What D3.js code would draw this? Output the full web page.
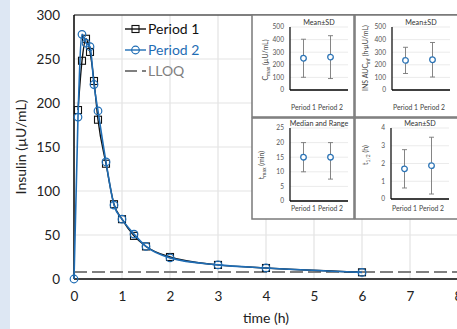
<!DOCTYPE html>
<html>
<head>
<meta charset="utf-8">
<script src="https://cdn.jsdelivr.net/npm/d3@7"></script>
<style>
  body { margin: 0; background: #fff; }
  text { font-family: Lato, "Open Sans", sans-serif; }
</style>
</head>
<body>
<div id="chart"></div>
<script>
// sampling times (min) and insulin concentrations (µU/mL)
const timesMin = [0, 5, 10, 15, 20, 25, 30, 40, 50, 60, 75, 90, 120, 180, 240, 360];
const period1 = [null, 192, 248, 273, 258, 225, 181, 131, 85, 68, 49, 37, 25, 16, 12.5, 7.6];
const period2 = [0, 184, 278, 268, 264, 221, 191, 133, 84, 68, 51, 37, 24, 16, 12.5, 7.5];
const lloq = 8;
const xTicks = [0, 1, 2, 3, 4, 5, 6, 7, 8];
const yTicks = [0, 50, 100, 150, 200, 250, 300];

// inset summaries: [centre, low, high]
const periods = ["Period 1", "Period 2"];
const cmaxStats = [[252, 101, 403], [261, 91, 431]];
const aucStats = [[235, 131, 339], [240, 103, 377]];
const tmaxStats = [[15, 10, 20], [15, 7.5, 20]];
const thalfStats = [[1.7, 0.62, 2.78], [1.88, 0.28, 3.48]];

const width = 457, height = 329;
const svg = d3.select("#chart").append("svg")
  .attr("width", width)
  .attr("height", height);

// light blue strip on the left edge
svg.append("rect").attr("x", 0).attr("y", 0).attr("width", 10).attr("height", height)
  .attr("fill", "#dde7f3");

const x = d3.scaleLinear().domain([0, 8]).range([74, 458]);
const y = d3.scaleLinear().domain([0, 300]).range([279, 15]);

// grid
svg.append("g").selectAll("line").data(xTicks.slice(1)).join("line")
  .attr("x1", d => x(d)).attr("x2", d => x(d)).attr("y1", y(0)).attr("y2", y(300))
  .attr("stroke", "#e3e3e3").attr("stroke-width", 1.2);
svg.append("g").selectAll("line").data(yTicks.slice(1)).join("line")
  .attr("x1", x(0)).attr("x2", x(8)).attr("y1", d => y(d)).attr("y2", d => y(d))
  .attr("stroke", d => d === 300 ? "#555" : "#e3e3e3").attr("stroke-width", d => d === 300 ? 1.3 : 1.2);

// axes (labels only, Excel style)
const xAxis = svg.append("g").attr("transform", `translate(0,${y(0)})`)
  .call(d3.axisBottom(x).tickValues(xTicks).tickSize(0).tickPadding(12));
xAxis.select(".domain").remove();
xAxis.selectAll("text").attr("font-size", 13.5).attr("fill", "#222").attr("font-family", "Lato, sans-serif");

const yAxis = svg.append("g").attr("transform", `translate(${x(0)},0)`)
  .call(d3.axisLeft(y).tickValues(yTicks).tickSize(0).tickPadding(14));
yAxis.select(".domain").remove();
yAxis.selectAll("text").attr("font-size", 13.5).attr("fill", "#222").attr("font-family", "Lato, sans-serif");

// LLOQ
svg.append("line").attr("x1", x(0)).attr("x2", x(8)).attr("y1", y(lloq)).attr("y2", y(lloq))
  .attr("stroke", "#808080").attr("stroke-width", 2).attr("stroke-dasharray", "13,5");

// axis lines
svg.append("line").attr("x1", x(0)).attr("x2", x(8)).attr("y1", y(0)).attr("y2", y(0))
  .attr("stroke", "#000").attr("stroke-width", 1.5);
svg.append("line").attr("x1", x(0)).attr("x2", x(0)).attr("y1", y(0)).attr("y2", y(300))
  .attr("stroke", "#000").attr("stroke-width", 1.5);

const blue = "#1f6db5";
const pts = arr => timesMin.map((t, i) => ({ t: t / 60, v: arr[i] })).filter(d => d.v !== null);
const line = d3.line().x(d => x(d.t)).y(d => y(d.v)).curve(d3.curveMonotoneX);

const p1 = pts(period1), p2 = pts(period2);

svg.append("path").datum(p1).attr("d", line).attr("fill", "none").attr("stroke", "#111").attr("stroke-width", 1.4);
svg.append("g").selectAll("rect").data(p1).join("rect")
  .attr("x", d => x(d.t) - 3.5).attr("y", d => y(d.v) - 3.5).attr("width", 7).attr("height", 7)
  .attr("fill", "none").attr("stroke", "#111").attr("stroke-width", 1.1);

svg.append("path").datum(p2).attr("d", line).attr("fill", "none").attr("stroke", blue).attr("stroke-width", 1.6);
svg.append("g").selectAll("circle").data(p2).join("circle")
  .attr("cx", d => x(d.t)).attr("cy", d => y(d.v)).attr("r", 3.8)
  .attr("fill", "none").attr("stroke", blue).attr("stroke-width", 1.2);

// legend
const legend = svg.append("g");
const lx0 = 125, lx1 = 146;
const leg = [
  { label: "Period 1", color: "#111", text: "#111", mark: "square", y: 29 },
  { label: "Period 2", color: blue, text: blue, mark: "circle", y: 50 },
  { label: "LLOQ", color: "#808080", text: "#808080", mark: "dash", y: 71 }
];
leg.forEach(d => {
  const l = legend.append("line").attr("x1", lx0).attr("x2", lx1).attr("y1", d.y).attr("y2", d.y)
    .attr("stroke", d.color).attr("stroke-width", d.mark === "dash" ? 2 : 1.4);
  if (d.mark === "dash") l.attr("stroke-dasharray", "12,5");
  if (d.mark === "square") legend.append("rect").attr("x", 132).attr("y", d.y - 3.5).attr("width", 7).attr("height", 7)
    .attr("fill", "none").attr("stroke", d.color).attr("stroke-width", 1.1);
  if (d.mark === "circle") legend.append("circle").attr("cx", 135.5).attr("cy", d.y).attr("r", 3.8)
    .attr("fill", "none").attr("stroke", d.color).attr("stroke-width", 1.2);
  legend.append("text").attr("x", 148).attr("y", d.y + 5).attr("font-size", 14).attr("fill", d.text).text(d.label);
});

// axis titles
svg.append("text").attr("transform", `translate(26,${(y(0) + y(300)) / 2}) rotate(-90)`)
  .attr("text-anchor", "middle").attr("font-size", 14).attr("fill", "#222").text("Insulin (µU/mL)");
svg.append("text").attr("x", (x(0) + x(8)) / 2).attr("y", 323)
  .attr("text-anchor", "middle").attr("font-size", 14).attr("fill", "#222").text("time (h)");

// inset panels
function inset(o) {
  const g = svg.append("g");
  g.append("rect").attr("x", o.bx).attr("y", o.by).attr("width", o.bw).attr("height", o.bh)
    .attr("fill", "#fff").attr("stroke", "#7a7a7a").attr("stroke-width", 1.5);
  const sx = d3.scaleBand().domain(periods).range([o.left, o.left + 54]);
  const sy = d3.scaleLinear().domain([0, o.max]).range([o.bottom, o.top]);
  const ticks = d3.range(0, o.max + o.step / 2, o.step);
  g.append("g").selectAll("line").data(ticks.slice(1)).join("line")
    .attr("x1", o.left).attr("x2", o.left + 58).attr("y1", d => sy(d)).attr("y2", d => sy(d))
    .attr("stroke", "#e6e6e6").attr("stroke-width", 0.8);
  g.append("g").selectAll("text").data(ticks).join("text")
    .attr("x", o.left - 6).attr("y", d => sy(d) + 2.4).attr("text-anchor", "end")
    .attr("font-size", 6.6).attr("fill", "#555").text(d => d);
  g.append("line").attr("x1", o.left).attr("x2", o.left).attr("y1", o.bottom).attr("y2", o.top)
    .attr("stroke", "#000").attr("stroke-width", 1.2);
  g.append("line").attr("x1", o.left).attr("x2", o.left + 58).attr("y1", o.bottom).attr("y2", o.bottom)
    .attr("stroke", "#000").attr("stroke-width", 1.5);
  g.append("g").selectAll("text").data(periods).join("text")
    .attr("x", d => sx(d) + sx.bandwidth() / 2).attr("y", o.labelY).attr("text-anchor", "middle")
    .attr("font-size", 6.8).attr("fill", "#444").text(d => d);
  g.append("text").attr("x", o.left + 29).attr("y", o.top - 2).attr("text-anchor", "middle")
    .attr("font-size", 7.2).attr("fill", "#333").text(o.title);
  const yl = g.append("text").attr("transform", `translate(${o.ylx},${o.yly}) rotate(-90)`)
    .attr("text-anchor", "middle").attr("font-size", 7).attr("fill", "#444");
  o.ylabel.forEach(p => {
    const s = yl.append("tspan").text(p.t);
    if (p.sub) s.attr("font-size", 5).attr("dy", 1.6);
    else if (p.after) s.attr("dy", -1.6);
  });
  const eb = g.append("g").selectAll("g").data(o.stats).join("g")
    .attr("transform", (d, i) => `translate(${sx(periods[i]) + sx.bandwidth() / 2},0)`);
  eb.append("line").attr("y1", d => sy(d[1])).attr("y2", d => sy(d[2])).attr("stroke", "#777").attr("stroke-width", 0.9);
  eb.append("line").attr("x1", -2.5).attr("x2", 2.5).attr("y1", d => sy(d[1])).attr("y2", d => sy(d[1])).attr("stroke", "#777").attr("stroke-width", 0.9);
  eb.append("line").attr("x1", -2.5).attr("x2", 2.5).attr("y1", d => sy(d[2])).attr("y2", d => sy(d[2])).attr("stroke", "#777").attr("stroke-width", 0.9);
  eb.append("circle").attr("cy", d => sy(d[0])).attr("r", 2.8)
    .attr("fill", "#fff").attr("stroke", "#2e75b6").attr("stroke-width", 1.3);
}

inset({ bx: 252, by: 15, bw: 102, bh: 102, left: 290, top: 27, bottom: 90, max: 500, step: 100,
  labelY: 110, title: "Mean±SD", stats: cmaxStats, ylx: 268, yly: 60,
  ylabel: [{ t: "C" }, { t: "max", sub: true }, { t: " (µU/mL)", after: true }] });
inset({ bx: 355, by: 15, bw: 104, bh: 102, left: 392, top: 27, bottom: 90, max: 500, step: 100,
  labelY: 110, title: "Mean±SD", stats: aucStats, ylx: 368, yly: 58,
  ylabel: [{ t: "INS AUC" }, { t: "inf", sub: true }, { t: " (h·µU/mL)", after: true }] });
inset({ bx: 252, by: 118, bw: 102, bh: 101, left: 290, top: 128, bottom: 201, max: 25, step: 5,
  labelY: 211, title: "Median and Range", stats: tmaxStats, ylx: 264, yly: 165,
  ylabel: [{ t: "t" }, { t: "max", sub: true }, { t: " (min)", after: true }] });
inset({ bx: 355, by: 118, bw: 104, bh: 101, left: 391, top: 128, bottom: 199, max: 4, step: 1,
  labelY: 211, title: "Mean±SD", stats: thalfStats, ylx: 368, yly: 155,
  ylabel: [{ t: "t" }, { t: "1/2", sub: true }, { t: " (h)", after: true }] });
</script>
</body>
</html>
